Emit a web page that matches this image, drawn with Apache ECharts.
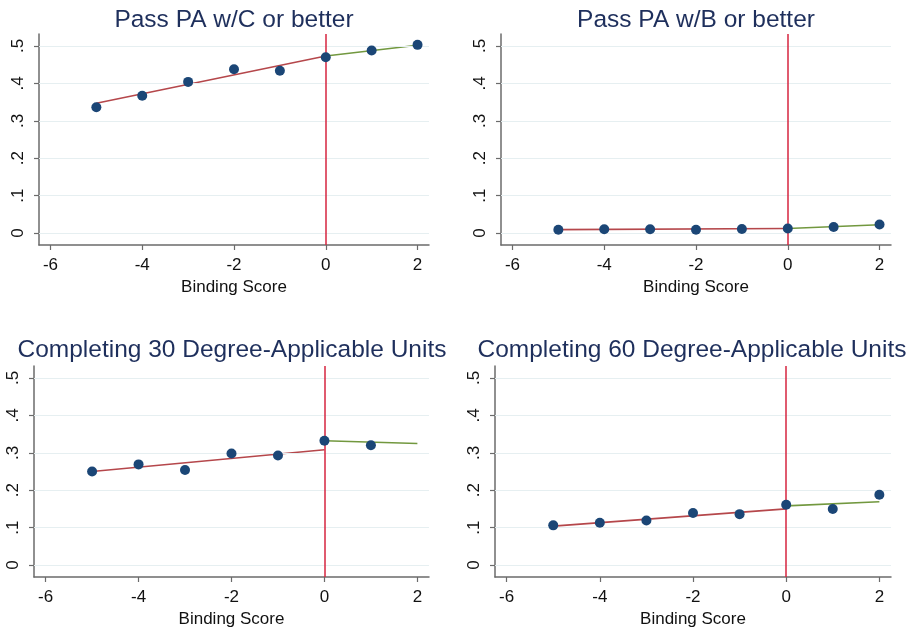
<!DOCTYPE html>
<html>
<head>
<meta charset="utf-8">
<script src="https://cdn.jsdelivr.net/npm/echarts@6/dist/echarts.min.js"></script>
<style>
html,body{margin:0;padding:0;background:#fff;}
#chart{width:918px;height:633px;}
</style>
</head>
<body>
<div id="chart"></div>
<script>
// ---- data ----
const panelTitles = ["Pass PA w/C or better", "Pass PA w/B or better",
  "Completing 30 Degree-Applicable Units", "Completing 60 Degree-Applicable Units"];
const bindingScore = [-5, -4, -3, -2, -1, 0, 1, 2];
const xTickValues = [-6, -4, -2, 0, 2];
const yTickValues = [0, 0.1, 0.2, 0.3, 0.4, 0.5];
const cutoff = 0;

const passC = [0.336, 0.367, 0.404, 0.438, 0.434, 0.470, 0.488, 0.503];
const passCFitLeft = [0.347, 0.473];   // at x = -5, 0
const passCFitRight = [0.473, 0.502];  // at x = 0, 2

const passB = [0.009, 0.010, 0.010, 0.009, 0.011, 0.012, 0.016, 0.023];
const passBFitLeft = [0.009, 0.012];
const passBFitRight = [0.012, 0.022];

const units30 = [0.250, 0.269, 0.254, 0.298, 0.293, 0.332, 0.320];
const units30FitLeft = [0.250, 0.308];
const units30FitRight = [0.332, 0.325];

const units60 = [0.106, 0.113, 0.119, 0.139, 0.136, 0.161, 0.150, 0.188];
const units60FitLeft = [0.104, 0.150];
const units60FitRight = [0.158, 0.169];

const leftFitX = [-5, 0];
const rightFitX = [0, 2];

// ---- chart ----
const panels = [
  {vals: passC, fl: passCFitLeft, fr: passCFitRight},
  {vals: passB, fl: passBFitLeft, fr: passBFitRight},
  {vals: units30, fl: units30FitLeft, fr: units30FitRight},
  {vals: units60, fl: units60FitLeft, fr: units60FitRight}
];
const grids = [
  {left: 39, top: 34, width: 390, height: 211},
  {left: 501, top: 34, width: 390, height: 211},
  {left: 34, top: 366, width: 395, height: 211},
  {left: 495, top: 366, width: 396, height: 211}
];
const titleCenters = [[229, 3], [691, 3], [227, 333], [687, 333]];

const FONT = "'Liberation Sans', Arial, Helvetica, sans-serif";
const axisColor = '#6b6b6b';

const option = {
  backgroundColor: '#ffffff',
  animation: false,
  title: panelTitles.map((t, i) => ({
    text: t,
    left: titleCenters[i][0],
    top: titleCenters[i][1],
    textAlign: 'center',
    textStyle: {fontFamily: FONT, fontSize: 24.5, fontWeight: 'normal', color: '#1e2f5c'}
  })),
  grid: grids.map(g => Object.assign({containLabel: false}, g)),
  xAxis: grids.map((g, i) => ({
    type: 'value', gridIndex: i, min: -6.25, max: 2.25,
    name: 'Binding Score', nameLocation: 'middle', nameGap: 34,
    nameTextStyle: {fontFamily: FONT, fontSize: 17, color: '#111'},
    axisLine: {show: true, onZero: false, lineStyle: {color: axisColor, width: 1.5}},
    axisTick: {show: true, length: 5, customValues: xTickValues, lineStyle: {color: axisColor, width: 1.2}},
    axisLabel: {customValues: xTickValues, margin: 12, fontFamily: FONT, fontSize: 17, color: '#111',
      formatter: v => String(v)},
    splitLine: {show: false}
  })),
  yAxis: grids.map((g, i) => ({
    type: 'value', gridIndex: i, min: -0.032, max: 0.532,
    axisLine: {show: true, onZero: false, lineStyle: {color: axisColor, width: 1.5}},
    axisTick: {show: true, length: 5, customValues: yTickValues, lineStyle: {color: axisColor, width: 1.2}},
    axisLabel: {customValues: yTickValues, rotate: 90, margin: 12, fontFamily: FONT, fontSize: 17, color: '#111',
      formatter: v => v === 0 ? '0' : ('.' + Math.round(v * 10))},
    splitLine: {show: false}
  })),
  series: []
};

panels.forEach((p, i) => {
  // gridlines at y tick values
  option.series.push({
    type: 'line', xAxisIndex: i, yAxisIndex: i, data: [], silent: true,
    markLine: {
      silent: true, symbol: 'none', label: {show: false}, animation: false,
      lineStyle: {color: '#e6eff1', width: 1.2, type: 'solid'},
      data: yTickValues.map(v => ({yAxis: v}))
    }
  });
  // cutoff vertical line
  option.series.push({
    type: 'line', xAxisIndex: i, yAxisIndex: i, data: [], silent: true, z: 3,
    markLine: {
      silent: true, symbol: 'none', label: {show: false}, animation: false,
      lineStyle: {color: '#d6253f', width: 1.5, type: 'solid'},
      data: [{xAxis: cutoff}]
    }
  });
  option.series.push({
    type: 'line', xAxisIndex: i, yAxisIndex: i, z: 4, symbol: 'none',
    lineStyle: {color: '#b5474b', width: 1.6},
    data: leftFitX.map((x, k) => [x, p.fl[k]])
  });
  option.series.push({
    type: 'line', xAxisIndex: i, yAxisIndex: i, z: 4, symbol: 'none',
    lineStyle: {color: '#72983f', width: 1.6},
    data: rightFitX.map((x, k) => [x, p.fr[k]])
  });
  option.series.push({
    type: 'scatter', xAxisIndex: i, yAxisIndex: i, z: 5, symbolSize: 10,
    itemStyle: {color: '#1b4676', opacity: 1},
    data: p.vals.map((v, k) => [bindingScore[k], v])
  });
});

const chart = echarts.init(document.getElementById('chart'), null, {renderer: 'canvas'});
chart.setOption(option);
</script>
</body>
</html>
